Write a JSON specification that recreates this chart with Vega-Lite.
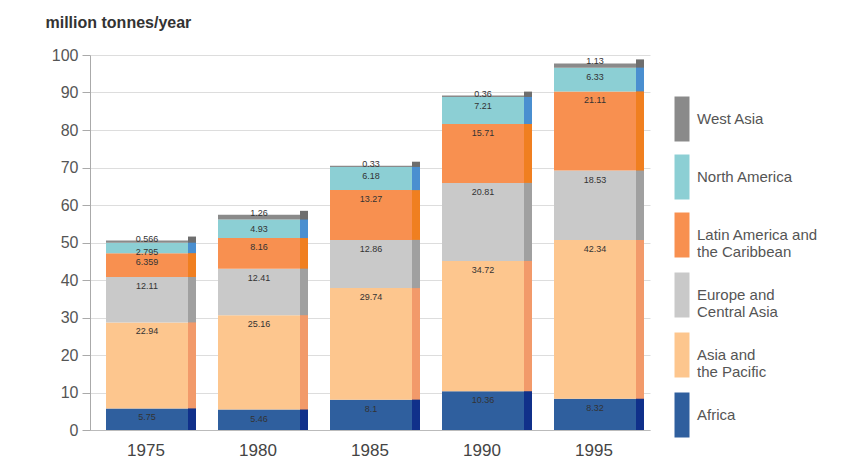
{
  "$schema": "https://vega.github.io/schema/vega-lite/v6.json",
  "autosize": {"type": "none"},
  "padding": {"left": 90, "top": 55, "right": 200, "bottom": 35},
  "width": 560,
  "height": 375,
  "background": "white",
  "config": {
    "font": "Liberation Sans",
    "view": {"stroke": null},
    "axis": {"labelFont": "Liberation Sans", "titleFont": "Liberation Sans"}
  },
  "data": {
    "values": [
      {"year": "1975", "region": "Africa", "order": 1, "value": 5.75},
      {"year": "1975", "region": "Asia and the Pacific", "order": 2, "value": 22.94},
      {"year": "1975", "region": "Europe and Central Asia", "order": 3, "value": 12.11},
      {"year": "1975", "region": "Latin America and the Caribbean", "order": 4, "value": 6.359},
      {"year": "1975", "region": "North America", "order": 5, "value": 2.795},
      {"year": "1975", "region": "West Asia", "order": 6, "value": 0.566},
      {"year": "1980", "region": "Africa", "order": 1, "value": 5.46},
      {"year": "1980", "region": "Asia and the Pacific", "order": 2, "value": 25.16},
      {"year": "1980", "region": "Europe and Central Asia", "order": 3, "value": 12.41},
      {"year": "1980", "region": "Latin America and the Caribbean", "order": 4, "value": 8.16},
      {"year": "1980", "region": "North America", "order": 5, "value": 4.93},
      {"year": "1980", "region": "West Asia", "order": 6, "value": 1.26},
      {"year": "1985", "region": "Africa", "order": 1, "value": 8.1},
      {"year": "1985", "region": "Asia and the Pacific", "order": 2, "value": 29.74},
      {"year": "1985", "region": "Europe and Central Asia", "order": 3, "value": 12.86},
      {"year": "1985", "region": "Latin America and the Caribbean", "order": 4, "value": 13.27},
      {"year": "1985", "region": "North America", "order": 5, "value": 6.18},
      {"year": "1985", "region": "West Asia", "order": 6, "value": 0.33},
      {"year": "1990", "region": "Africa", "order": 1, "value": 10.36},
      {"year": "1990", "region": "Asia and the Pacific", "order": 2, "value": 34.72},
      {"year": "1990", "region": "Europe and Central Asia", "order": 3, "value": 20.81},
      {"year": "1990", "region": "Latin America and the Caribbean", "order": 4, "value": 15.71},
      {"year": "1990", "region": "North America", "order": 5, "value": 7.21},
      {"year": "1990", "region": "West Asia", "order": 6, "value": 0.36},
      {"year": "1995", "region": "Africa", "order": 1, "value": 8.32},
      {"year": "1995", "region": "Asia and the Pacific", "order": 2, "value": 42.34},
      {"year": "1995", "region": "Europe and Central Asia", "order": 3, "value": 18.53},
      {"year": "1995", "region": "Latin America and the Caribbean", "order": 4, "value": 21.11},
      {"year": "1995", "region": "North America", "order": 5, "value": 6.33},
      {"year": "1995", "region": "West Asia", "order": 6, "value": 1.13}
    ]
  },
  "transform": [
    {"stack": "value", "groupby": ["year"], "sort": [{"field": "order", "order": "ascending"}], "as": ["y0", "y1"]}
  ],
  "encoding": {
    "x": {
      "field": "year", "type": "nominal",
      "scale": {"paddingInner": 0.2, "paddingOuter": 0.1},
      "axis": {"title": null, "labelAngle": 0, "labelFontSize": 17, "labelColor": "#444", "ticks": false, "domain": true, "domainColor": "#bbb", "labelPadding": 12}
    },
    "y": {
      "field": "y1", "type": "quantitative",
      "scale": {"domain": [0, 100], "nice": false},
      "axis": {
        "values": [0, 10, 20, 30, 40, 50, 60, 70, 80, 90, 100],
        "labelOverlap": false, "grid": true,
        "title": "million tonnes/year", "titleAngle": 0, "titleAlign": "left", "titleBaseline": "middle",
        "titleX": -45, "titleY": -33, "titleFontSize": 16, "titleFontWeight": "bold", "titleColor": "#333",
        "labelFontSize": 16, "labelColor": "#555", "tickColor": "#aaa", "tickSize": 8, "labelPadding": 4,
        "domainColor": "#aaa", "gridColor": "#ddd"
      }
    }
  },
  "layer": [
    {
      "mark": {"type": "bar", "width": 82, "xOffset": 1},
      "encoding": {
        "y2": {"field": "y0"},
        "color": {
          "field": "region", "type": "nominal",
          "scale": {
            "domain": ["West Asia", "North America", "Latin America and the Caribbean", "Europe and Central Asia", "Asia and the Pacific", "Africa"],
            "range": ["#8a8a8a", "#8ccfd4", "#f89050", "#c9c9c9", "#fdc68e", "#2f5f9e"]
          },
          "legend": {
            "title": null,
            "orient": "none", "legendX": 577, "legendY": 49,
            "symbolType": "M-0.5,-1.5H0.5V1.5H-0.5Z",
            "symbolSize": 900, "symbolStrokeWidth": 0,
            "labelFontSize": 15, "labelColor": "#555", "labelLimit": 200,
            "labelExpr": "datum.label == 'Latin America and the Caribbean' ? ['Latin America and', 'the Caribbean'] : datum.label == 'Europe and Central Asia' ? ['Europe and', 'Central Asia'] : datum.label == 'Asia and the Pacific' ? ['Asia and', 'the Pacific'] : datum.label",
            "rowPadding": 12, "labelOffset": 0
          }
        }
      }
    },
    {
      "mark": {"type": "bar", "width": 8, "xOffset": 46, "yOffset": -4},
      "encoding": {
        "y2": {"field": "y0"},
        "color": {
          "field": "region", "type": "nominal",
          "scale": {
            "domain": ["West Asia", "North America", "Latin America and the Caribbean", "Europe and Central Asia", "Asia and the Pacific", "Africa"],
            "range": ["#6e6e6e", "#4a8fd0", "#f07f20", "#a0a0a0", "#f29a6a", "#10308a"]
          },
          "legend": null
        }
      }
    },
    {
      "transform": [{"filter": "datum.region != 'West Asia'"}],
      "mark": {"type": "text", "fontSize": 9, "color": "#333", "baseline": "middle", "dy": 9, "xOffset": 1},
      "encoding": {
        "text": {"field": "value", "type": "nominal"}
      }
    },
    {
      "transform": [{"filter": "datum.region == 'West Asia'"}],
      "mark": {"type": "text", "fontSize": 9, "color": "#333", "baseline": "middle", "dy": -2, "xOffset": 1},
      "encoding": {
        "text": {"field": "value", "type": "nominal"}
      }
    }
  ],
  "resolve": {"scale": {"color": "independent"}}
}
